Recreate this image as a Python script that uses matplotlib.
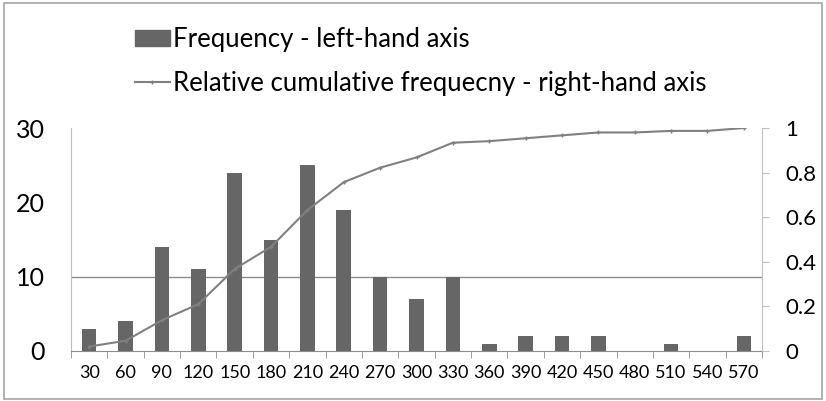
import matplotlib
matplotlib.use("Agg")
import matplotlib.pyplot as plt
from matplotlib.patches import Rectangle
from matplotlib.lines import Line2D

categories = [30, 60, 90, 120, 150, 180, 210, 240, 270, 300, 330, 360, 390, 420, 450, 480, 510, 540, 570]
frequency = [3, 4, 14, 11, 24, 15, 25, 19, 10, 7, 10, 1, 2, 2, 2, 0, 1, 0, 2]
rel_cum = [0.02, 0.046, 0.138, 0.21, 0.368, 0.467, 0.632, 0.757, 0.822, 0.868, 0.934,
           0.941, 0.954, 0.967, 0.980, 0.980, 0.987, 0.987, 1.0]
left_ticks = [0, 10, 20, 30]
right_ticks = [0, 0.2, 0.4, 0.6, 0.8, 1]
right_labels = ["0", "0.2", "0.4", "0.6", "0.8", "1"]

plt.rcParams['font.family'] = ['Lato', 'DejaVu Sans']

W, H = 826, 401
fig = plt.figure(figsize=(W / 100, H / 100), dpi=100)
fig.patches.append(Rectangle((4 / W, 2 / H), (W - 8) / W, (H - 5) / H, transform=fig.transFigure,
                             fill=False, edgecolor='#a6a6a6', linewidth=1.2))

x0, x1 = 71, 762
y0, y1 = 351, 128
ax = fig.add_axes([x0 / W, 1 - y0 / H, (x1 - x0) / W, (y0 - y1) / H])
xs = list(range(len(categories)))
bar_col = '#666666'
line_col = '#808080'
ax.bar(xs, frequency, width=0.4, color=bar_col, zorder=3)
ax.set_xlim(-0.5, len(categories) - 0.5)
ax.set_ylim(0, 30)
ax.axhline(10, color='#8c8c8c', linewidth=1.0, zorder=1)
ax.set_yticks(left_ticks)
ax.set_yticklabels([str(t) for t in left_ticks], fontsize=18)
ax.tick_params(axis='y', length=0, pad=19)
ax.set_xticks(xs)
ax.set_xticklabels([str(c) for c in categories], fontsize=13)
ax.tick_params(axis='x', length=0, pad=10)
ax.set_xticks([i - 0.5 for i in range(len(categories) + 1)], minor=True)
ax.tick_params(axis='x', which='minor', length=5, color='#8c8c8c', direction='out')
for s in ['top', 'right']:
    ax.spines[s].set_visible(False)
ax.spines['left'].set_color('#bfbfbf')
ax.spines['bottom'].set_color('#8c8c8c')

ax2 = ax.twinx()
ax2.plot(xs, rel_cum, color=line_col, linewidth=1.5, marker='+', markersize=3.5,
         markeredgewidth=1.0, zorder=4)
ax2.set_ylim(0, 1)
ax2.set_yticks(right_ticks)
ax2.set_yticklabels(right_labels, fontsize=16)
ax2.tick_params(axis='y', length=5, color='#bfbfbf', pad=12)
for s in ['top', 'left', 'bottom']:
    ax2.spines[s].set_visible(False)
ax2.spines['right'].set_color('#bfbfbf')

handles = [Rectangle((0, 0), 1, 1, color=bar_col),
           Line2D([0], [0], color=line_col, linewidth=1.5, marker='+', markersize=3.5)]
labels = ["Frequency - left-hand axis", "Relative cumulative frequecny - right-hand axis"]
fig.legend(handles, labels, loc='upper left', bbox_to_anchor=(135 / W, 1 - 27 / H),
           frameon=False, fontsize=18.5, handlelength=1.36, handleheight=0.6,
           handletextpad=0.1, labelspacing=0.73, borderpad=0, borderaxespad=0)

fig.savefig("out.png", dpi=100)
